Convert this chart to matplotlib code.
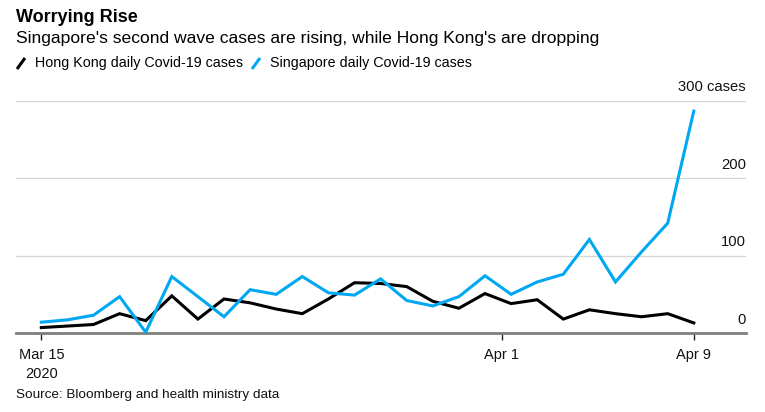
import numpy as np
import pandas as pd
import matplotlib
matplotlib.use("Agg")
import matplotlib.pyplot as plt
from matplotlib.lines import Line2D
import matplotlib.transforms as mtransforms

plt.rcParams['font.family'] = ['Liberation Sans', 'DejaVu Sans']

# daily cases, Mar 15 - Apr 9 2020
dates = pd.date_range('2020-03-15', '2020-04-09', freq='D')
hong_kong = [7, 9, 11, 25, 16, 48, 18, 44, 39, 31, 25, 44, 65, 64,
             60, 41, 32, 51, 38, 43, 18, 30, 25, 21, 25, 13]
singapore = [14, 17, 23, 47, 1, 73, 47, 21, 56, 50, 73, 52, 49, 70,
             42, 35, 47, 74, 50, 66, 76, 121, 66, 105, 142, 287]
y_ticks = [0, 100, 200, 300]
y_labels = ['0', '100', '200', '300 cases']
x_labels = ['Mar 15\n2020', 'Apr 1', 'Apr 9']

hk_color = '#000000'
sg_color = '#00a8f2'

x = np.arange(len(dates))

fig = plt.figure(figsize=(7.65, 4.12), dpi=100)
W, H = 765, 412
ax = fig.add_axes([16 / W, 1 - 333 / H, (746 - 16) / W, (333 - 101) / H])

ax.plot(x, hong_kong, color=hk_color, lw=2.2, solid_joinstyle='miter', zorder=3)
ax.plot(x, singapore, color=sg_color, lw=2.2, solid_joinstyle='miter', zorder=3)

ax.set_xlim(-0.97, 27.0)
ax.set_ylim(0, 300)

# grid lines + right-side labels sitting above them
for v, lab in zip(y_ticks, y_labels):
    if v > 0:
        ax.axhline(v, color='#d6d6d6', lw=0.9, zorder=1)
    trans = mtransforms.offset_copy(ax.get_yaxis_transform(), fig=fig, x=0, y=13.5, units='dots')
    ax.text(1.0, v, lab, transform=trans, ha='right', va='center', fontsize=10.6, color='#111111')
ax.axhline(0, color='#7f7f7f', lw=2.0, zorder=2, clip_on=False)

for s in ax.spines.values():
    s.set_visible(False)
ax.set_yticks([])

# Apr 1 tick sits a bit right of the Apr 1 point in the original
ax.set_xticks([0, 17.64, 25])
ax.set_xticklabels(x_labels, fontsize=10.5, linespacing=1.4)
ax.tick_params(axis='x', length=5, width=1, color='#222222', pad=6, labelcolor='#111111')

# titles
fig.text(16 / W, 1 - 17 / H, 'Worrying Rise', fontsize=13, fontweight='bold', va='center', ha='left')
fig.text(16 / W, 1 - 39 / H, "Singapore's second wave cases are rising, while Hong Kong's are dropping",
         fontsize=12.6, va='center', ha='left')

# legend
def legend_item(x0, color, label):
    fig.add_artist(Line2D([x0 / W, (x0 + 8) / W], [1 - 69 / H, 1 - 58 / H], color=color, lw=2.2,
                          transform=fig.transFigure, solid_capstyle='butt'))
    fig.text((x0 + 18) / W, 1 - 63 / H, label, fontsize=10.25, va='center', ha='left')

legend_item(17, hk_color, 'Hong Kong daily Covid-19 cases')
legend_item(252, sg_color, 'Singapore daily Covid-19 cases')

fig.text(16 / W, 1 - 395 / H, 'Source: Bloomberg and health ministry data', fontsize=9.7,
         va='center', ha='left', color='#111111')

fig.savefig('out.png', dpi=100)
